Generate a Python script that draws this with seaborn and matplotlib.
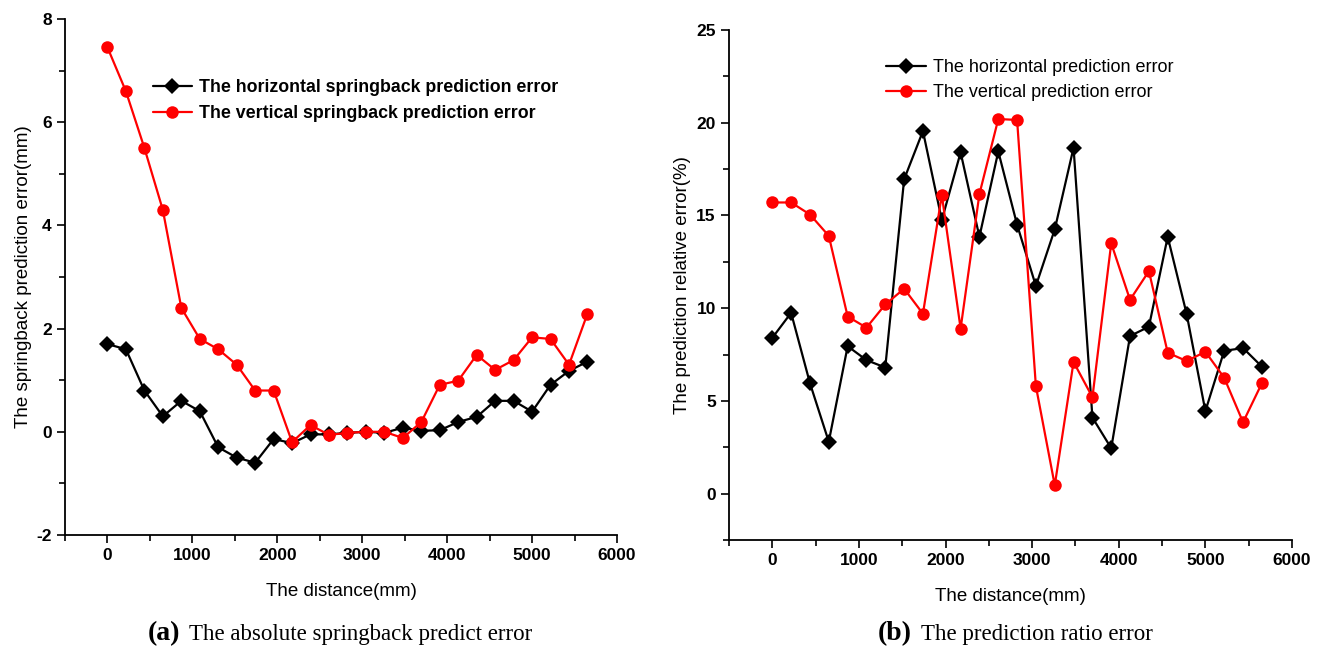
import numpy as np
import pandas as pd
import matplotlib
matplotlib.use("Agg")
import matplotlib.pyplot as plt
import seaborn as sns
from matplotlib.ticker import MultipleLocator

distance = [0, 217, 435, 652, 870, 1087, 1304, 1522, 1739, 1957, 2174, 2391, 2609,
            2826, 3043, 3261, 3478, 3696, 3913, 4130, 4348, 4565, 4783, 5000, 5217,
            5435, 5652]

abs_horizontal = [1.70, 1.60, 0.80, 0.30, 0.60, 0.40, -0.30, -0.50, -0.60, -0.14, -0.22,
                  -0.05, -0.05, -0.02, 0.00, -0.02, 0.08, 0.02, 0.03, 0.19, 0.29, 0.60,
                  0.60, 0.39, 0.91, 1.18, 1.36]
abs_vertical = [7.45, 6.60, 5.50, 4.30, 2.40, 1.80, 1.60, 1.30, 0.80, 0.80, -0.20, 0.13,
                -0.06, -0.02, 0.00, 0.00, -0.12, 0.19, 0.91, 0.99, 1.49, 1.20, 1.39, 1.83,
                1.80, 1.30, 2.29]

ratio_horizontal = [8.40, 9.75, 5.95, 2.80, 7.95, 7.20, 6.80, 16.95, 19.55, 14.75, 18.40,
                    13.85, 18.45, 14.50, 11.20, 14.25, 18.65, 4.10, 2.45, 8.50, 9.00,
                    13.85, 9.70, 4.45, 7.70, 7.85, 6.85]
ratio_vertical = [15.70, 15.70, 15.05, 13.90, 9.55, 8.95, 10.20, 11.05, 9.70, 16.10, 8.90,
                  16.15, 20.20, 20.15, 5.80, 0.45, 7.10, 5.20, 13.50, 10.45, 12.00, 7.60,
                  7.15, 7.65, 6.25, 3.85, 5.95]

left_labels = ["The horizontal springback prediction error",
               "The vertical springback prediction error"]
right_labels = ["The horizontal prediction error",
                "The vertical prediction error"]

sns.set_theme(style="ticks")
plt.rcParams["font.family"] = ["Liberation Sans", "DejaVu Sans"]
plt.rcParams["axes.unicode_minus"] = False
for k in ("text.color", "axes.labelcolor", "xtick.color", "ytick.color", "axes.edgecolor"):
    plt.rcParams[k] = "black"

fig = plt.figure(figsize=(13.23, 6.49), dpi=100)
axL = fig.add_axes([65/1323, (649-535)/649, 552/1323, 516/649])
axR = fig.add_axes([729/1323, (649-540)/649, 563/1323, 510/649])


def draw(ax, ys, labels):
    rows = []
    for y, lab in zip(ys, labels):
        for xv, yv in zip(distance, y):
            rows.append({"x": xv, "y": yv, "series": lab})
    df = pd.DataFrame(rows)
    sns.lineplot(data=df, x="x", y="y", hue="series", style="series",
                 palette={labels[0]: "black", labels[1]: "red"},
                 markers={labels[0]: "D", labels[1]: "o"}, dashes=False,
                 linewidth=1.6, markersize=9, markeredgewidth=0, ax=ax,
                 legend=False, sort=False)
    for line, ms in zip(ax.get_lines(), [8.5, 9]):
        line.set_markersize(ms)


draw(axL, [abs_horizontal, abs_vertical], left_labels)
draw(axR, [ratio_horizontal, ratio_vertical], right_labels)

for ax in (axL, axR):
    for s in ("top", "right"):
        ax.spines[s].set_visible(False)
    for s in ("left", "bottom"):
        ax.spines[s].set_linewidth(1.3)
        ax.spines[s].set_color("black")
    ax.set_xlim(-500, 6000)
    ax.xaxis.set_major_locator(MultipleLocator(1000))
    ax.xaxis.set_minor_locator(MultipleLocator(500))
    ax.tick_params(which="major", direction="out", length=6, width=1.2, color="black",
                   labelsize=12.5, labelcolor="black")
    ax.tick_params(which="minor", direction="out", length=4, width=1.2, color="black")
    ax.set_xlabel("The distance(mm)", fontsize=13.5, labelpad=14, color="black")
    ax.grid(False)

axL.set_ylim(-2, 8)
axL.yaxis.set_major_locator(MultipleLocator(2))
axL.yaxis.set_minor_locator(MultipleLocator(1))
axL.set_ylabel("The springback prediction error(mm)", fontsize=13.5, labelpad=3,
               color="black")

axR.set_ylim(-2.5, 25)
axR.set_yticks([0, 5, 10, 15, 20, 25])
axR.yaxis.set_minor_locator(MultipleLocator(2.5))
axR.set_ylabel("The prediction relative error(%)", fontsize=13.5, labelpad=4,
               color="black")

for ax in (axL, axR):
    for lab in ax.get_xticklabels() + ax.get_yticklabels():
        lab.set_fontweight("bold")

axL.legend(axL.get_lines(), left_labels, loc="upper left",
           bbox_to_anchor=(0.13, 0.915), frameon=False, handlelength=2.2,
           handletextpad=0.4, labelspacing=0.5,
           prop={"family": "Liberation Sans", "weight": "bold", "size": 12.8})
axR.legend(axR.get_lines(), right_labels, loc="upper left",
           bbox_to_anchor=(0.25, 0.975), frameon=False, handlelength=2.2,
           handletextpad=0.4, labelspacing=0.45,
           prop={"family": "Liberation Sans", "size": 13})


def caption(xc, letter, text):
    t1 = fig.text(0, 0, letter, fontsize=20, fontweight="bold",
                  family="Liberation Serif", va="baseline", color="black")
    t2 = fig.text(0, 0, text, fontsize=16.5, family="Liberation Serif",
                  va="baseline", color="black")
    fig.canvas.draw()
    r = fig.canvas.get_renderer()
    w1 = t1.get_window_extent(r).width
    w2 = t2.get_window_extent(r).width
    gap = 9
    total = w1 + gap + w2
    x0 = xc - total / 2
    y = (649 - 640) / 649
    t1.set_position((x0 / 1323, y))
    t2.set_position(((x0 + w1 + gap) / 1323, y))


caption(340, "(a)", "The absolute springback predict error")
caption(1015, "(b)", "The prediction ratio error")

fig.savefig("out.png", dpi=100)
